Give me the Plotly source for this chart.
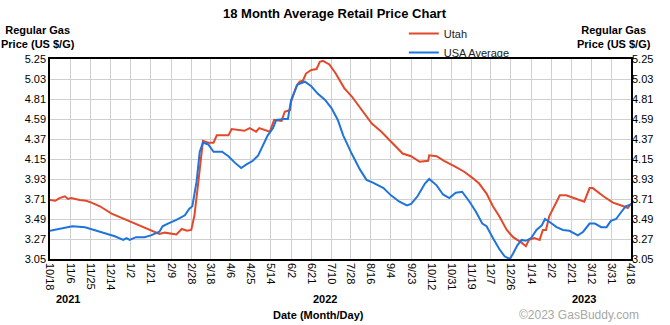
import plotly.graph_objects as go

# ---------------- data ----------------
utah_dates = [
    "2021-10-18", "2021-10-23", "2021-10-27", "2021-11-01", "2021-11-04", "2021-11-07",
    "2021-11-15", "2021-11-21", "2021-11-26", "2021-12-04", "2021-12-15", "2021-12-27",
    "2022-01-02", "2022-01-10", "2022-01-21", "2022-01-29", "2022-02-03", "2022-02-09",
    "2022-02-14", "2022-02-19", "2022-02-24", "2022-02-28", "2022-03-03", "2022-03-06",
    "2022-03-09", "2022-03-11", "2022-03-16", "2022-03-21", "2022-03-24", "2022-04-04",
    "2022-04-07", "2022-04-19", "2022-04-24", "2022-04-30", "2022-05-03", "2022-05-13",
    "2022-05-17", "2022-05-24", "2022-05-27", "2022-06-01", "2022-06-02", "2022-06-07",
    "2022-06-10", "2022-06-13", "2022-06-16", "2022-06-21", "2022-06-26", "2022-06-29",
    "2022-07-02", "2022-07-08", "2022-07-14", "2022-07-22", "2022-07-29", "2022-08-09",
    "2022-08-17", "2022-08-26", "2022-09-04", "2022-09-15", "2022-09-23", "2022-10-01",
    "2022-10-09", "2022-10-10", "2022-10-17", "2022-10-24", "2022-11-03", "2022-11-12",
    "2022-11-20", "2022-11-26", "2022-12-03", "2022-12-09", "2022-12-15", "2022-12-22",
    "2022-12-28", "2023-01-05", "2023-01-09", "2023-01-12", "2023-01-17", "2023-01-22",
    "2023-01-25", "2023-01-28", "2023-01-31", "2023-02-05", "2023-02-10", "2023-02-16",
    "2023-02-25", "2023-03-05", "2023-03-10", "2023-03-13", "2023-03-23", "2023-04-01",
    "2023-04-11", "2023-04-15", "2023-04-18",
]
utah_prices = [
    3.70, 3.69, 3.72, 3.74, 3.71, 3.72,
    3.70, 3.69, 3.67, 3.63, 3.55, 3.49,
    3.46, 3.42, 3.36, 3.325, 3.34, 3.33,
    3.32, 3.38, 3.36, 3.37, 3.53, 3.83,
    4.19, 4.35, 4.33, 4.33, 4.41, 4.41,
    4.48, 4.46, 4.49, 4.45, 4.49, 4.45,
    4.58, 4.57, 4.67, 4.69, 4.78, 4.95,
    5.00, 5.01, 5.09, 5.13, 5.14, 5.22,
    5.23, 5.19, 5.09, 4.93, 4.84, 4.67,
    4.54, 4.45, 4.34, 4.21, 4.18, 4.12,
    4.13, 4.19, 4.18, 4.13, 4.07, 4.01,
    3.94, 3.88, 3.77, 3.63, 3.52, 3.37,
    3.29, 3.23, 3.19, 3.26, 3.28, 3.26,
    3.37, 3.37, 3.52, 3.63, 3.75, 3.75,
    3.71, 3.68, 3.83, 3.83, 3.74, 3.67,
    3.63, 3.61, 3.66,
]

usa_dates = [
    "2021-10-18", "2021-10-29", "2021-11-08", "2021-11-20", "2021-11-29", "2021-12-09",
    "2021-12-18", "2021-12-26", "2021-12-29", "2022-01-01", "2022-01-07", "2022-01-15",
    "2022-01-21", "2022-01-29", "2022-02-01", "2022-02-06", "2022-02-14", "2022-02-22",
    "2022-02-26", "2022-03-01", "2022-03-05", "2022-03-08", "2022-03-11", "2022-03-16",
    "2022-03-21", "2022-03-29", "2022-04-04", "2022-04-10", "2022-04-16", "2022-04-21",
    "2022-04-27", "2022-05-02", "2022-05-06", "2022-05-11", "2022-05-16", "2022-05-19",
    "2022-05-27", "2022-05-30", "2022-06-02", "2022-06-05", "2022-06-08", "2022-06-15",
    "2022-06-21", "2022-06-27", "2022-07-04", "2022-07-10", "2022-07-16", "2022-07-21",
    "2022-07-29", "2022-08-06", "2022-08-12", "2022-08-18", "2022-08-28", "2022-09-04",
    "2022-09-12", "2022-09-19", "2022-09-23", "2022-09-29", "2022-10-06", "2022-10-10",
    "2022-10-17", "2022-10-23", "2022-10-29", "2022-11-04", "2022-11-10", "2022-11-17",
    "2022-11-23", "2022-11-29", "2022-12-03", "2022-12-09", "2022-12-15", "2022-12-20",
    "2022-12-25", "2022-12-28", "2023-01-01", "2023-01-05", "2023-01-09", "2023-01-14",
    "2023-01-19", "2023-01-24", "2023-01-27", "2023-01-31", "2023-02-07", "2023-02-13",
    "2023-02-19", "2023-02-27", "2023-03-04", "2023-03-10", "2023-03-15", "2023-03-21",
    "2023-03-26", "2023-03-30", "2023-04-04", "2023-04-09", "2023-04-13", "2023-04-18",
]
usa_prices = [
    3.36, 3.39, 3.41, 3.40, 3.37, 3.33,
    3.30, 3.26, 3.28, 3.26, 3.29, 3.29,
    3.31, 3.35, 3.41, 3.44, 3.48, 3.53,
    3.60, 3.63, 3.90, 4.23, 4.33, 4.31,
    4.23, 4.23, 4.18, 4.11, 4.05, 4.09,
    4.13, 4.19, 4.29, 4.41, 4.49, 4.58,
    4.59, 4.59, 4.80, 4.89, 4.97, 5.00,
    4.95, 4.87, 4.80, 4.71, 4.58, 4.41,
    4.21, 4.03, 3.92, 3.89, 3.83, 3.75,
    3.68, 3.64, 3.655, 3.74, 3.88, 3.93,
    3.86, 3.76, 3.72, 3.78, 3.79, 3.68,
    3.57, 3.44, 3.41, 3.28, 3.16, 3.08,
    3.05, 3.11, 3.20, 3.26, 3.25, 3.28,
    3.37, 3.42, 3.49, 3.46, 3.40, 3.37,
    3.36, 3.31, 3.35, 3.44, 3.44, 3.40,
    3.40, 3.47, 3.49, 3.57, 3.63, 3.65,
]

tick_dates = [
    "2021-10-18", "2021-11-06", "2021-11-25", "2021-12-14", "2022-01-02", "2022-01-21",
    "2022-02-09", "2022-02-28", "2022-03-18", "2022-04-06", "2022-04-25", "2022-05-14",
    "2022-06-02", "2022-06-21", "2022-07-10", "2022-07-28", "2022-08-16", "2022-09-04",
    "2022-09-23", "2022-10-12", "2022-10-31", "2022-11-19", "2022-12-07", "2022-12-26",
    "2023-01-14", "2023-02-02", "2023-02-21", "2023-03-12", "2023-03-31", "2023-04-18",
]
tick_labels = [
    "10/18", "11/6", "11/25", "12/14", "1/2", "1/21", "2/9", "2/28", "3/18", "4/6",
    "4/25", "5/14", "6/2", "6/21", "7/10", "7/28", "8/16", "9/4", "9/23", "10/12",
    "10/31", "11/19", "12/7", "12/26", "1/14", "2/2", "2/21", "3/12", "3/31", "4/18",
]
y_ticks = [3.05, 3.27, 3.49, 3.71, 3.93, 4.15, 4.37, 4.59, 4.81, 5.03, 5.25]
year_labels = ["2021", "2022", "2023"]
year_dates = ["2021-11-04", "2022-07-04", "2023-03-05"]

# ---------------- figure ----------------
FONT = "Arial, Liberation Sans, sans-serif"
RED = "#e2492b"
BLUE = "#1f74dc"

fig = go.Figure()
fig.add_trace(go.Scatter(x=utah_dates, y=utah_prices, mode="lines", name="Utah",
                         line=dict(color=RED, width=2)))
fig.add_trace(go.Scatter(x=usa_dates, y=usa_prices, mode="lines", name="USA Average",
                         line=dict(color=BLUE, width=2)))
# invisible carrier for the right-hand axis
fig.add_trace(go.Scatter(x=[utah_dates[0]], y=[None], yaxis="y2", showlegend=False,
                         hoverinfo="skip", mode="lines"))

yrange = [y_ticks[0], y_ticks[-1]]
common_y = dict(range=yrange, tickvals=y_ticks, ticktext=[f"{v:.2f}" for v in y_ticks],
                tickfont=dict(family=FONT, size=11, color="black"), ticks="",
                fixedrange=True, zeroline=False)

fig.update_layout(
    width=670, height=325,
    margin=dict(l=50, r=39, t=59, b=66),
    paper_bgcolor="white", plot_bgcolor="white",
    font=dict(family=FONT, size=11, color="black"),
    xaxis=dict(range=[tick_dates[0], tick_dates[-1]], tickvals=tick_dates, ticktext=tick_labels,
               tickangle=90, tickfont=dict(family=FONT, size=11, color="black"),
               showgrid=True, gridcolor="#cfcfcf", gridwidth=1, ticks="",
               showline=True, linecolor="black", linewidth=1.5, mirror=True, zeroline=False),
    yaxis=dict(**common_y, showgrid=True, gridcolor="#cfcfcf", gridwidth=1,
               showline=True, linecolor="black", linewidth=1.5, mirror=True, side="left"),
    yaxis2=dict(**common_y, overlaying="y", side="right", showgrid=False, showline=False),
    showlegend=True,
    legend=dict(x=0.609, y=1.2, xanchor="left", yanchor="top", orientation="v",
                font=dict(family=FONT, size=11, color="#222"), bgcolor="rgba(0,0,0,0)",
                tracegroupgap=0, itemwidth=30),
)

fig.add_annotation(text="<b>18 Month Average Retail Price Chart</b>", xref="paper", yref="paper",
                   x=(335 - 50) / 581, y=(259 - 13) / 200, showarrow=False,
                   font=dict(family=FONT, size=13, color="black"), xanchor="center", yanchor="middle")
for xpix in (38, 614):
    fig.add_annotation(text="<b>Regular Gas<br>Price (US $/G)</b>", xref="paper", yref="paper",
                       x=(xpix - 50) / 581, y=(259 - 37) / 200, showarrow=False,
                       font=dict(family=FONT, size=11, color="black"),
                       xanchor="center", yanchor="middle", align="center")
for lab, d in zip(year_labels, year_dates):
    fig.add_annotation(text=f"<b>{lab}</b>", x=d, xref="x", yref="paper",
                       y=-(299 - 259) / 200, showarrow=False,
                       font=dict(family=FONT, size=11, color="black"),
                       xanchor="center", yanchor="middle")
fig.add_annotation(text="<b>Date (Month/Day)</b>", xref="paper", yref="paper",
                   x=(318 - 50) / 581, y=-(315 - 259) / 200, showarrow=False,
                   font=dict(family=FONT, size=11, color="black"), xanchor="center", yanchor="middle")
fig.add_annotation(text="©2023 GasBuddy.com", xref="paper", yref="paper",
                   x=(641 - 50) / 581, y=-(315 - 259) / 200, showarrow=False,
                   font=dict(family=FONT, size=12, color="#a8a8a8"), xanchor="right", yanchor="middle")

fig.write_html("out.html")
